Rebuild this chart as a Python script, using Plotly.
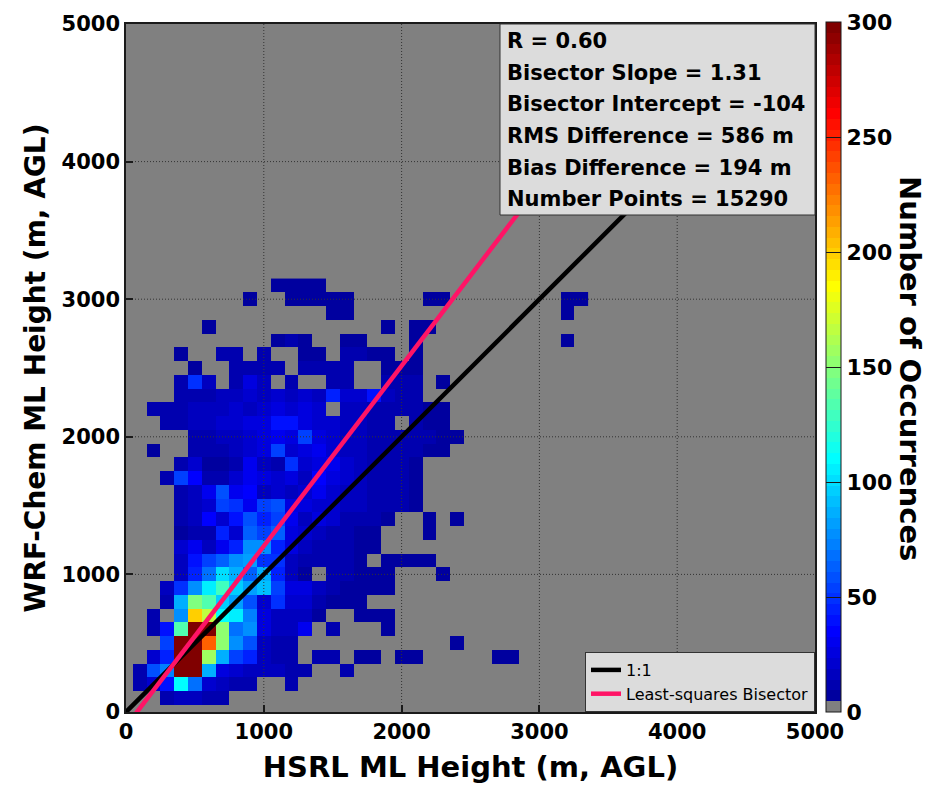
import numpy as np
import plotly.graph_objects as go

# 100 m bin centres of the joint HSRL / WRF-Chem mixed-layer height histogram
hsrl_bins = list(range(0, 3400, 100))   # x bins (m)
wrf_bins = list(range(0, 3200, 100))    # y bins (m)

# Occurrence counts, one row per WRF-Chem bin (0 m upward);
# each row starts at the 0 m HSRL bin, trailing empty bins omitted.
occurrences = [
    [],
    [0, 0, 0, 12, 18, 18, 14, 12],
    [0, 12, 21, 40, 110, 68, 21, 16, 12, 12, 0, 0, 12],
    [0, 12, 58, 72, 420, 380, 86, 26, 21, 16, 16, 16, 12, 12, 0, 0, 12],
    [0, 0, 21, 44, 450, 400, 157, 86, 53, 44, 16, 14, 12, 0, 12, 12, 0, 8, 8, 0, 8, 8, 0, 0, 0, 0, 0, 8, 8],
    [0, 0, 0, 53, 360, 480, 232, 152, 77, 58, 16, 12, 12, 0, 0, 0, 0, 0, 0, 0, 0, 0, 0, 0, 8],
    [0, 0, 12, 40, 133, 330, 310, 152, 66, 77, 26, 16, 18, 30, 0, 12, 0, 0, 0, 8],
    [0, 0, 12, 0, 77, 200, 166, 110, 105, 72, 26, 18, 16, 16, 8, 0, 0, 8, 8, 8],
    [0, 0, 0, 12, 86, 147, 133, 96, 80, 58, 21, 49, 21, 21, 12, 8, 8, 8],
    [0, 0, 0, 18, 49, 77, 105, 129, 96, 82, 91, 53, 26, 26, 16, 12, 8, 8, 8, 8],
    [0, 0, 0, 0, 18, 44, 68, 100, 88, 63, 86, 44, 16, 8, 0, 10, 10, 8, 8, 8, 0, 0, 0, 8],
    [0, 0, 0, 0, 16, 40, 53, 63, 75, 82, 49, 49, 16, 12, 12, 12, 10, 8, 0, 8, 8, 8, 8],
    [0, 0, 0, 0, 21, 30, 18, 30, 46, 77, 77, 44, 26, 16, 14, 10, 10, 8, 8],
    [0, 0, 0, 0, 9, 12, 14, 44, 20, 63, 53, 63, 26, 23, 18, 14, 10, 8, 8, 0, 0, 0, 8],
    [0, 0, 0, 0, 12, 16, 35, 21, 38, 58, 44, 53, 30, 18, 26, 21, 14, 12, 10, 8, 0, 0, 8, 0, 8],
    [0, 0, 0, 0, 12, 16, 21, 53, 50, 30, 53, 58, 26, 26, 23, 21, 18, 16, 14, 12, 10, 8],
    [0, 0, 0, 0, 12, 18, 30, 58, 30, 35, 18, 21, 16, 21, 30, 21, 18, 16, 14, 12, 10, 8],
    [0, 0, 0, 12, 53, 35, 12, 12, 21, 30, 26, 21, 26, 16, 35, 26, 20, 16, 14, 12, 10, 8],
    [0, 0, 0, 0, 14, 21, 9, 9, 14, 30, 16, 12, 49, 21, 26, 30, 20, 16, 14, 12, 10, 8],
    [0, 0, 9, 0, 0, 14, 12, 12, 15, 21, 26, 53, 21, 26, 30, 21, 18, 16, 14, 12, 10, 10, 8, 8],
    [0, 0, 0, 0, 0, 14, 14, 16, 18, 21, 26, 30, 26, 53, 26, 21, 18, 16, 14, 12, 12, 10, 10, 8, 8],
    [0, 0, 0, 10, 14, 16, 18, 21, 21, 26, 26, 40, 40, 26, 21, 21, 18, 16, 14, 12, 0, 10, 8, 8],
    [0, 0, 12, 12, 14, 16, 18, 16, 21, 18, 21, 26, 21, 26, 21, 0, 18, 16, 14, 14, 12, 10, 8, 8],
    [0, 0, 0, 0, 12, 14, 14, 16, 18, 21, 18, 21, 18, 21, 16, 44, 21, 21, 40, 18, 14, 12],
    [0, 0, 0, 0, 12, 49, 16, 0, 14, 26, 16, 0, 12, 0, 0, 14, 12, 0, 0, 12, 12, 10, 0, 8],
    [0, 0, 0, 0, 0, 9, 0, 0, 12, 12, 12, 10, 0, 10, 12, 12, 10, 0, 0, 9, 9, 9],
    [0, 0, 0, 0, 9, 0, 0, 10, 10, 0, 10, 0, 0, 9, 9, 0, 10, 10, 9, 9, 0, 9],
    [0, 0, 0, 0, 0, 0, 0, 0, 0, 0, 0, 9, 14, 9, 0, 0, 9, 9, 0, 0, 0, 9, 0, 0, 0, 0, 0, 0, 0, 0, 0, 0, 8],
    [0, 0, 0, 0, 0, 0, 8, 0, 0, 0, 0, 0, 0, 0, 0, 0, 0, 0, 0, 8, 0, 9, 8],
    [0, 0, 0, 0, 0, 0, 0, 0, 0, 0, 0, 0, 0, 0, 0, 8, 8, 0, 0, 0, 0, 0, 0, 0, 0, 0, 0, 0, 0, 0, 0, 0, 8],
    [0, 0, 0, 0, 0, 0, 0, 0, 0, 8, 0, 0, 8, 8, 8, 8, 8, 0, 0, 0, 0, 0, 8, 8, 0, 0, 0, 0, 0, 0, 0, 0, 8, 8],
    [0, 0, 0, 0, 0, 0, 0, 0, 0, 0, 0, 8, 8, 8, 8],
]

# Comparison statistics
r_value = 0.60
bisector_slope = 1.31
bisector_intercept = -104
rms_difference = 586
bias_difference = 194
number_points = 15290

axis_ticks = [0, 1000, 2000, 3000, 4000, 5000]
grid_ticks = [1000, 2000, 3000, 4000]
colorbar_ticks = [0, 50, 100, 150, 200, 250, 300]
axis_limits = [0, 5000]

FONT = "DejaVu Sans"


def jet(m=64):
    """MATLAB-style jet colormap with m entries."""
    n = int(np.ceil(m / 4))
    u = np.concatenate([np.arange(1, n + 1) / n, np.ones(n - 1), np.arange(n, 0, -1) / n])
    g = int(np.ceil(n / 2)) - (1 if m % 4 == 1 else 0) + np.arange(1, len(u) + 1)
    r = g + n
    b = g - n
    cmap = np.zeros((m, 3))
    for idx, ch in ((r, 0), (g, 1), (b, 2)):
        ok = (idx >= 1) & (idx <= m)
        cmap[idx[ok] - 1, ch] = u[ok]
    return cmap


# Stepped jet colour scale, lowest level shown in grey
cmap = jet(64)
cmap[0] = [0.5, 0.5, 0.5]
colorscale = []
for k, c in enumerate(cmap):
    rgb = "rgb({},{},{})".format(*[int(round(v * 255)) for v in c])
    colorscale.append([k / 64, rgb])
    colorscale.append([(k + 1) / 64, rgb])

ncols = len(hsrl_bins)
z = []
for row in occurrences:
    full = list(row) + [0] * (ncols - len(row))
    z.append([v if v > 0 else None for v in full])

# Layout geometry (pixels)
W, H = 931, 795
ML, MR, MT, MB = 126, 116, 24, 83
PW = W - ML - MR
PH = H - MT - MB


def px_x(x):
    return (x - ML) / PW


def px_y(y):
    return (H - MB - y) / PH


fig = go.Figure()

fig.add_trace(go.Heatmap(
    x=hsrl_bins, y=wrf_bins, z=z,
    zmin=0, zmax=300, colorscale=colorscale,
    hoverongaps=False,
    colorbar=dict(
        thickness=15, thicknessmode="pixels",
        len=690, lenmode="pixels",
        x=px_x(826), xanchor="left", xpad=0,
        y=0, yanchor="bottom", ypad=0,
        outlinecolor="#1a1a1a", outlinewidth=1,
        tickmode="array", tickvals=colorbar_ticks,
        ticks="inside", ticklen=15, tickwidth=1, tickcolor="#1a1a1a",
        tickfont=dict(family=FONT, size=22, weight="bold", color="black"),
    ),
))

# Dotted grid drawn over the histogram
gx, gy = [], []
for t in grid_ticks:
    gx += [t, t, None]
    gy += [axis_limits[0], axis_limits[1], None]
    gx += [axis_limits[0], axis_limits[1], None]
    gy += [t, t, None]
fig.add_trace(go.Scatter(
    x=gx, y=gy, mode="lines", hoverinfo="skip", showlegend=False,
    line=dict(color="#333333", width=1, dash="1px,2px"),
))

# 1:1 reference and least-squares bisector fit
fig.add_trace(go.Scatter(
    x=axis_limits, y=axis_limits, mode="lines", name="1:1",
    line=dict(color="black", width=4.5),
))
fig.add_trace(go.Scatter(
    x=axis_limits,
    y=[bisector_slope * x + bisector_intercept for x in axis_limits],
    mode="lines", name="Least-squares Bisector",
    line=dict(color="#FF1466", width=4.5),
))

axis_common = dict(
    range=axis_limits, tickmode="array", tickvals=axis_ticks,
    ticks="inside", ticklen=7, tickwidth=1.5, tickcolor="#1a1a1a",
    showgrid=False, zeroline=False,
    showline=True, mirror=True, linecolor="#1a1a1a", linewidth=1.5,
    tickfont=dict(family=FONT, size=21, weight="bold", color="black"),
)

fig.update_layout(
    width=W, height=H,
    margin=dict(l=ML, r=MR, t=MT, b=MB, autoexpand=False),
    paper_bgcolor="white", plot_bgcolor="#808080",
    xaxis=dict(**axis_common, title=dict(
        text="HSRL ML Height (m, AGL)", standoff=14,
        font=dict(family=FONT, size=29, weight="bold", color="black"))),
    yaxis=dict(**axis_common, title=dict(
        text="WRF-Chem ML Height (m, AGL)", standoff=8,
        font=dict(family=FONT, size=28, weight="bold", color="black"))),
    legend=dict(
        x=1, xanchor="right", y=0, yanchor="bottom",
        bgcolor="#DCDCDC", bordercolor="#333333", borderwidth=1,
        font=dict(family=FONT, size=16, color="black"),
        itemwidth=30, tracegroupgap=0,
    ),
    showlegend=True,
)

# Statistics box
fig.add_shape(
    type="rect", xref="paper", yref="paper",
    x0=px_x(500), x1=1, y0=px_y(215), y1=1,
    fillcolor="#DCDCDC", line=dict(color="#333333", width=1), layer="above",
)
stats_lines = [
    f"R = {r_value:.2f}",
    f"Bisector Slope = {bisector_slope:.2f}",
    f"Bisector Intercept = {bisector_intercept}",
    f"RMS Difference = {rms_difference} m",
    f"Bias Difference = {bias_difference} m",
    f"Number Points = {number_points}",
]
for n, txt in enumerate(stats_lines):
    fig.add_annotation(
        xref="paper", yref="paper", x=px_x(505), y=px_y(41 + 31.7 * n),
        xanchor="left", yanchor="middle", showarrow=False, text=txt,
        font=dict(family=FONT, size=21, weight="bold", color="black"),
    )

# Colour bar title
fig.add_annotation(
    xref="paper", yref="paper", x=px_x(910), y=px_y(368),
    xanchor="center", yanchor="middle", showarrow=False, textangle=90,
    text="Number of Occurrences",
    font=dict(family=FONT, size=29, weight="bold", color="black"),
)

fig.write_html("out.html")
